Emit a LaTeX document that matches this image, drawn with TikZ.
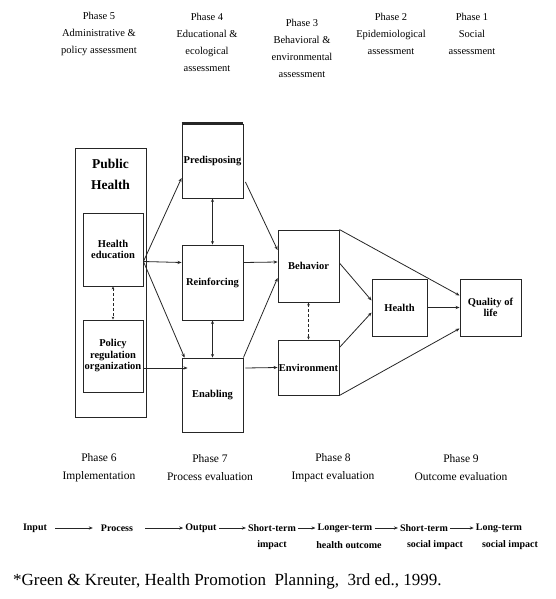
\documentclass[tikz,border=0pt]{standalone}
\usepackage{fontspec}
\setmainfont{Liberation Serif}
\usetikzlibrary{calc,arrows.meta}
\begin{document}
\begin{tikzpicture}[x=1pt,y=-1pt,
  box/.style={draw=black!85, line width=0.9pt, inner sep=0.5pt, align=center,
    font=\fontsize{10.5}{11.5}\selectfont\bfseries},
  arr/.style={-{Stealth[length=4pt,width=3.2pt]}, line width=0.8pt, draw=black!85},
  darr/.style={{Stealth[length=3.5pt,width=3pt]}-{Stealth[length=3.5pt,width=3pt]}, line width=0.8pt, draw=black!85},
  dotarr/.style={{Stealth[length=3pt,width=2.6pt]}-{Stealth[length=3pt,width=2.6pt]}, line width=0.7pt, densely dashed, draw=black!85},
  hdr/.style={align=center, font=\fontsize{10.5}{17}\selectfont, inner sep=0pt},
  evl/.style={align=center, font=\fontsize{11.5}{18}\selectfont, inner sep=0pt},
  rowt/.style={font=\fontsize{10}{11}\selectfont\bfseries, inner sep=2pt}
]
\useasboundingbox (0,0) rectangle (555,599);

% header
\node[hdr] (h5) at (99,33.5) {Phase 5\\Administrative \&\\policy assessment};
\node[hdr] (h4) at (207,42) {Phase 4\\Educational \&\\ecological\\assessment};
\node[hdr] (h3) at (302,48) {Phase 3\\Behavioral \&\\environmental\\assessment};
\node[hdr] (h2) at (391,33.5) {Phase 2\\Epidemiological\\assessment};
\node[hdr] (h1) at (472,33.5) {Phase 1\\Social\\assessment};

% public health column
\node[box, minimum width=71pt, minimum height=269pt] (ph) at (110.5,282.5) {};
\node[font=\fontsize{13.5}{21}\selectfont\bfseries, align=center, inner sep=0pt] (pht) at (110.5,174) {Public\\Health};
\node[box, minimum width=60pt, minimum height=73pt] (he) at (113,249.5) {Health\\education};
\node[box, minimum width=60pt, minimum height=72pt] (pro) at (113,356) {Policy\\regulation\\organization};

% phase 4 boxes
\node[box, minimum width=61pt, minimum height=74pt] (pred) at (212.5,161) {Predisposing};
\node[box, minimum width=61pt, minimum height=75pt] (reinf) at (212.5,282.5) {Reinforcing};
\node[box, minimum width=61pt, minimum height=74pt] (enab) at (212.5,395) {Enabling};
\draw[line width=2.2pt, black!85] (pred.north west) -- (pred.north east);

% phase 3,2,1 boxes
\node[box, minimum width=61pt, minimum height=72pt] (beh) at (308.5,266) {Behavior};
\node[box, minimum width=61pt, minimum height=55pt] (env) at (308.5,367.5) {Environment};
\node[box, minimum width=55pt, minimum height=57pt] (hl) at (399.5,307.5) {Health};
\node[box, minimum width=61pt, minimum height=57pt] (qol) at (490.5,307.5) {Quality of\\life};

% connectors
\draw[arr] ($(he.east)+(0,12)$) -- ($(pred.west)+(0,17)$);
\draw[arr] ($(he.east)+(0,12)$) -- ($(reinf.west)+(0,-20)$);
\draw[arr] ($(he.east)+(0,12)$) -- ($(enab.north west)+(3,0)$);
\draw[arr] ($(pro.east)+(0,12)$) -- ($(enab.west)+(6,-27)$);
\draw[dotarr] (he) -- (pro);
\draw[darr] (pred) -- (reinf);
\draw[darr] (reinf) -- (enab);
\draw[arr] ($(pred.east)+(2,21)$) -- ($(beh.west)+(0,-16)$);
\draw[arr] ($(reinf.east)+(0,-20)$) -- ($(beh.west)+(0,-4)$);
\draw[arr] (enab.north east) -- ($(beh.west)+(0,12)$);
\draw[arr] ($(enab.east)+(2,-27)$) -- (env.west);
\draw[dotarr] (beh) -- (env);
\draw[arr] ($(beh.east)+(0,-3)$) -- ($(hl.west)+(0,-7)$);
\draw[arr] ($(env.east)+(0,-20)$) -- ($(hl.west)+(0,5)$);
\draw[arr] (beh.north east) -- ($(qol.west)+(0,-12)$);
\draw[arr] (hl.east) -- (qol.west);
\draw[arr] (env.south east) -- ($(qol.west)+(0,21)$);

% evaluation phases
\node[evl] (p6) at (99,468) {Phase 6\\Implementation};
\node[evl] (p7) at (210,468) {Phase 7\\Process evaluation};
\node[evl] (p8) at (333,468) {Phase 8\\Impact evaluation};
\node[evl] (p9) at (461,468) {Phase 9\\Outcome evaluation};

% bottom row
\node[rowt] (in) at (35,528) {Input};
\node[rowt] (pr) at (117,528) {Process};
\node[rowt] (out) at (201,528) {Output};
\node[rowt] (st1) at (272,528) {Short-term};
\node[rowt] (st1b) at (272,545) {impact};
\node[rowt] (lt1) at (345,528) {Longer-term};
\node[rowt] (lt1b) at (349,545) {health outcome};
\node[rowt] (st2) at (424,528) {Short-term};
\node[rowt] (st2b) at (435,545) {social impact};
\node[rowt] (lt2) at (499,528) {Long-term};
\node[rowt] (lt2b) at (510,545) {social impact};
\draw[arr] ([xshift=6pt]in.east) -- ([xshift=-6pt]pr.west);
\draw[arr] ([xshift=10pt]pr.east) -- (out.west);
\draw[arr] (out.east) -- (st1.west);
\draw[arr] (st1.east) -- (lt1.west);
\draw[arr] (lt1.east) -- (st2.west);
\draw[arr] (st2.east) -- (lt2.west);

% citation
\node[font=\fontsize{17}{19}\selectfont, anchor=west, inner sep=0pt] (cite) at (13,581)
  {*Green \& Kreuter, Health Promotion\ \ Planning,\ \ 3rd ed., 1999.};
\end{tikzpicture}
\end{document}
